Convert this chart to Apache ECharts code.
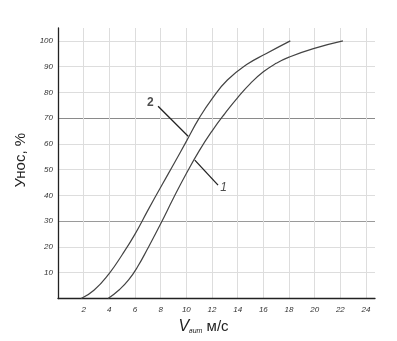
<!DOCTYPE html>
<html>
<head>
<meta charset="utf-8">
<script src="https://cdn.jsdelivr.net/npm/echarts@6/dist/echarts.min.js"></script>
<style>html,body{margin:0;padding:0;background:#fff}#c{width:397px;height:341px}</style>
</head>
<body>
<div id="c"></div>
<script>
// Curve 1 (right) and curve 2 (left): [V, %]
const curve1 = [[3.9,0],[4.8,3.5],[5.5,7.2],[6.2,12.3],[7,19.5],[8,29],[9,39],[10,48.5],[11,57.3],[12,65],[13,71.8],[14,78],[15,83.5],[16,88],[17,91.3],[18,93.7],[19.9,97],[22.2,100]];
const curve2 = [[1.8,0],[2.8,3.2],[4,9.8],[5,17],[6,25],[7,34.2],[8,43.2],[9,52],[10,61],[11,70],[12,77.5],[13.2,84.8],[14.7,90.8],[16.2,95],[18.1,100]];
// leader lines and labels
const leader2 = [[7.8,74.6],[10.14,63]];
const leader1 = [[10.66,53.7],[12.47,44]];
const label2 = [[7.2,75.9]];
const label1 = [[12.9,43.1]];
const xTicks = {min:0, max:24.7, interval:2};
const yTicks = {min:0, max:105, interval:10};

const chart = echarts.init(document.getElementById('c'), null, {renderer:'canvas'});
const gridColors = ['#ddd','#ddd','#ddd','#9a9a9a','#ddd','#ddd','#ddd','#8a8a8a','#ddd','#ddd','#ddd'];
chart.setOption({
  animation:false,
  backgroundColor:'#fff',
  grid:{left:58,right:22,top:28,bottom:42.5},
  xAxis:{
    type:'value', min:xTicks.min, max:xTicks.max, interval:xTicks.interval,
    axisLine:{show:true,onZero:false,lineStyle:{color:'#222',width:1.3}},
    axisTick:{show:false},
    axisLabel:{showMinLabel:false,showMaxLabel:false,margin:7,fontFamily:'Liberation Sans',fontStyle:'italic',fontSize:8,color:'#333'},
    splitLine:{show:true,showMinLine:false,showMaxLine:false,lineStyle:{color:'#ddd',width:1}},
    name:'{v|V}{s|вит} м/с',
    nameLocation:'middle', nameGap:20,
    nameTextStyle:{fontFamily:'Liberation Sans',fontSize:15,color:'#222',padding:[0,26,0,0],
      rich:{v:{fontFamily:'Liberation Sans',fontStyle:'italic',fontSize:16,color:'#222'},
            s:{fontFamily:'Liberation Sans',fontStyle:'italic',fontSize:7,color:'#222',padding:[6,0,0,0],verticalAlign:'bottom'}}}
  },
  yAxis:{
    type:'value', min:yTicks.min, max:yTicks.max, interval:yTicks.interval,
    axisLine:{show:true,onZero:false,lineStyle:{color:'#222',width:1.3}},
    axisTick:{show:false},
    axisLabel:{showMinLabel:false,showMaxLabel:false,margin:5,fontFamily:'Liberation Sans',fontStyle:'italic',fontSize:8,color:'#333'},
    splitLine:{show:true,showMinLine:true,showMaxLine:false,lineStyle:{color:gridColors,width:1}},
    name:'Унос, %', nameLocation:'middle', nameRotate:90, nameGap:30,
    nameTextStyle:{fontFamily:'Liberation Sans',fontSize:15,color:'#222',padding:[0,0,0,6]}
  },
  series:[
    {type:'line',data:curve1,smooth:0.5,showSymbol:false,lineStyle:{color:'#444',width:1.2}},
    {type:'line',data:curve2,smooth:0.5,showSymbol:false,lineStyle:{color:'#444',width:1.2}},
    {type:'line',data:leader2,showSymbol:false,lineStyle:{color:'#222',width:1.3}},
    {type:'line',data:leader1,showSymbol:false,lineStyle:{color:'#222',width:1.3}},
    {type:'scatter',data:label2,symbolSize:0,label:{show:true,position:'inside',formatter:'2',fontFamily:'Liberation Sans',fontWeight:'bold',fontSize:12,color:'#222'}},
    {type:'scatter',data:label1,symbolSize:0,label:{show:true,position:'inside',formatter:'1',fontFamily:'Liberation Sans',fontStyle:'italic',fontSize:12,color:'#222'}}
  ]
});
</script>
</body>
</html>
